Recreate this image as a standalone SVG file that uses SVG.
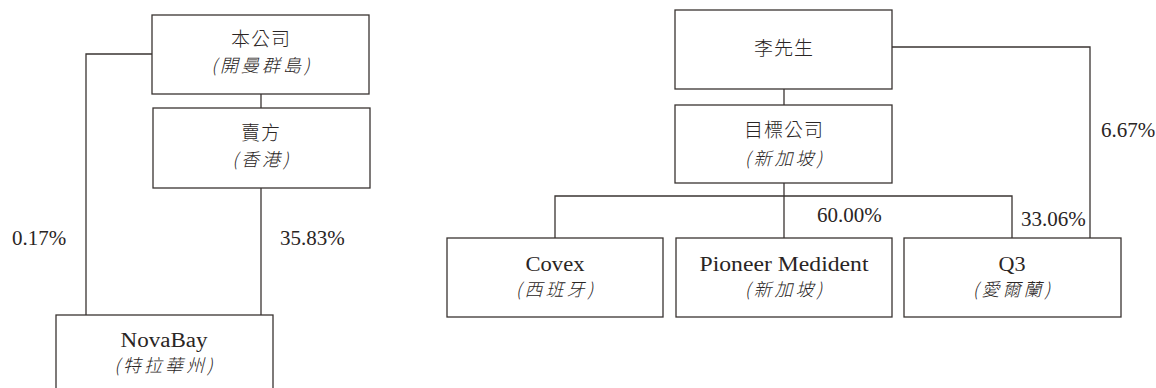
<svg xmlns="http://www.w3.org/2000/svg" width="1156" height="388" viewBox="0 0 1156 388">
<style>
rect.box{fill:#fff;stroke:#3a3432;stroke-width:1.3}
.conn path{fill:none;stroke:#3a3432;stroke-width:1.3}
text{fill:#2a2524}
.lat{font-family:"Liberation Serif","Times New Roman",serif;font-size:20px;font-weight:400}
.num{font-family:"Liberation Serif","Times New Roman",serif;font-size:21px;font-weight:400}
.cjk{font-family:"Noto Sans CJK TC","Noto Sans CJK SC",sans-serif;font-size:19px;font-weight:300;letter-spacing:1px}
.sub{font-family:"Noto Sans CJK TC","Noto Sans CJK SC",sans-serif;font-size:18px;font-weight:300;letter-spacing:3px;font-style:italic}
</style>
<rect width="1156" height="388" fill="#fff"/>
<g class="conn" id="connectors">
<path d="M152,54 H86 V315"/>
<path d="M261,94 V108"/>
<path d="M261,188 V315"/>
<path d="M892,47 H1090 V238"/>
<path d="M784,89 V105"/>
<path d="M784,183 V238"/>
<path d="M555,238 V196 H1012 V238"/>
</g>
<g id="n_company">
<rect class="box" x="152" y="15" width="217" height="79"/>
<text class="cjk" x="261" y="45.5" text-anchor="middle">本公司</text>
<text class="sub" x="262" y="71.5" text-anchor="middle">(開曼群島)</text>
</g>
<g id="n_seller">
<rect class="box" x="153" y="108" width="217" height="80"/>
<text class="cjk" x="261" y="140" text-anchor="middle">賣方</text>
<text class="sub" x="262" y="166" text-anchor="middle">(香港)</text>
</g>
<g id="n_novabay">
<rect class="box" x="56" y="315" width="217" height="80"/>
<text class="lat" x="164" y="347" text-anchor="middle" textLength="87" lengthAdjust="spacingAndGlyphs">NovaBay</text>
<text class="sub" x="165" y="372" text-anchor="middle">(特拉華州)</text>
</g>
<g id="n_lee">
<rect class="box" x="675" y="10" width="217" height="79"/>
<text class="cjk" x="784" y="55" text-anchor="middle">李先生</text>
</g>
<g id="n_target">
<rect class="box" x="675" y="105" width="217" height="78"/>
<text class="cjk" x="784" y="136.5" text-anchor="middle">目標公司</text>
<text class="sub" x="785" y="165" text-anchor="middle">(新加坡)</text>
</g>
<g id="n_covex">
<rect class="box" x="447" y="238" width="216" height="79"/>
<text class="lat" x="555" y="270.5" text-anchor="middle" textLength="59" lengthAdjust="spacingAndGlyphs">Covex</text>
<text class="sub" x="556" y="296" text-anchor="middle">(西班牙)</text>
</g>
<g id="n_pioneer">
<rect class="box" x="676" y="238" width="216" height="79"/>
<text class="lat" x="784" y="270.5" text-anchor="middle" textLength="169" lengthAdjust="spacingAndGlyphs">Pioneer Medident</text>
<text class="sub" x="785" y="296" text-anchor="middle">(新加坡)</text>
</g>
<g id="n_q3">
<rect class="box" x="904" y="238" width="217" height="79"/>
<text class="lat" x="1012" y="270.5" text-anchor="middle" textLength="27" lengthAdjust="spacingAndGlyphs">Q3</text>
<text class="sub" x="1013" y="296" text-anchor="middle">(愛爾蘭)</text>
</g>
<g id="labels">
<text class="num" x="12" y="245">0.17%</text>
<text class="num" x="280" y="245">35.83%</text>
<text class="num" x="1101" y="137">6.67%</text>
<text class="num" x="817" y="222">60.00%</text>
<text class="num" x="1021" y="226">33.06%</text>
</g>
</svg>
